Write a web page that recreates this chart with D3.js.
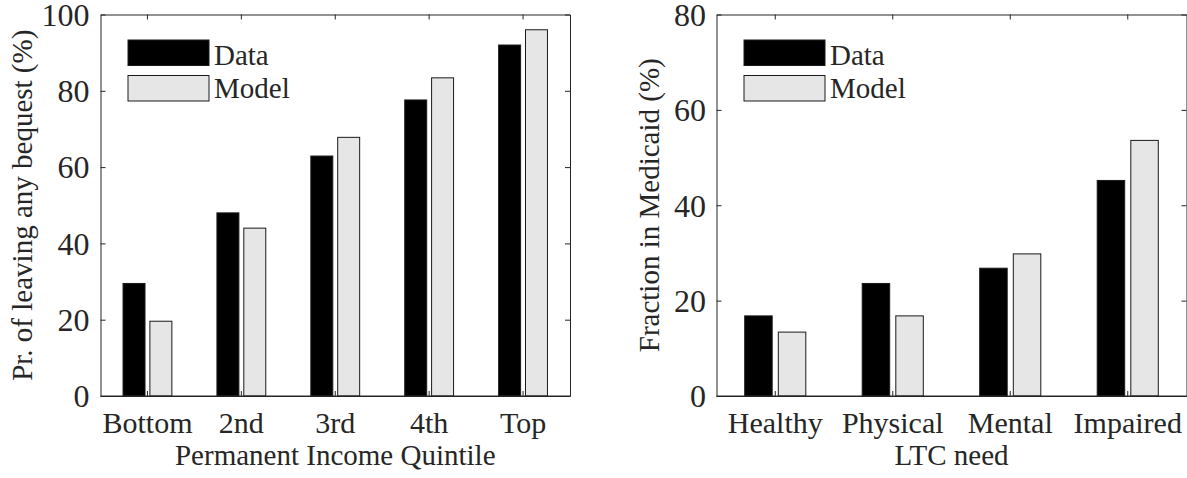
<!DOCTYPE html>
<html>
<head>
<meta charset="utf-8">
<script src="https://cdn.jsdelivr.net/npm/d3@7"></script>
<style>
  html, body { margin: 0; padding: 0; background: #fff; }
  svg { display: block; }
  text { font-family: "Liberation Serif", "Times New Roman", serif; fill: #262626; }
</style>
</head>
<body>
<svg id="fig" width="1187" height="478"></svg>
<script>
// Series names (legend entries)
const seriesNames = ["Data", "Model"];

// Left panel: probability of leaving any bequest by permanent income quintile (%)
const incomeQuintiles = ["Bottom", "2nd", "3rd", "4th", "Top"];
const bequestData  = [29.5, 48.0, 62.9, 77.6, 92.0];
const bequestModel = [19.6, 44.0, 67.8, 83.4, 96.0];
const bequestTicks = [0, 20, 40, 60, 80, 100];

// Right panel: fraction on Medicaid by long-term-care need (%)
const ltcNeeds      = ["Healthy", "Physical", "Mental", "Impaired"];
const medicaidData  = [16.8, 23.6, 26.8, 45.2];
const medicaidModel = [13.4, 16.8, 29.8, 53.6];
const medicaidTicks = [0, 20, 40, 60, 80];

const svg = d3.select("#fig");
const Y_TICK_FONT = 32, X_TICK_FONT = 30, TITLE_FONT = 29, LEGEND_FONT = 29;
const fills = { Data: "#000000", Model: "#e6e6e6" };

function drawPanel(cfg) {
  const g = svg.append("g");
  const x = d3.scaleBand().domain(cfg.cats).range([cfg.left, cfg.right]).paddingInner(0).paddingOuter(0);
  const y = d3.scaleLinear().domain([0, cfg.yMax]).range([cfg.bottom, cfg.top]);
  const bw = x.bandwidth();
  const sub = d3.scaleBand().domain(seriesNames)
    .range([-0.26 * bw, 0.26 * bw]).paddingInner(0.182).paddingOuter(0);

  // box: top and right axes (ticks only)
  g.append("g").attr("transform", `translate(0,${cfg.top})`)
    .call(d3.axisTop(x).tickSizeInner(-5).tickSizeOuter(0).tickFormat(""));
  g.append("g").attr("transform", `translate(${cfg.right},0)`)
    .call(d3.axisRight(y).tickValues(cfg.ticks).tickSizeInner(-5).tickSizeOuter(0).tickFormat(""));

  // left axis with labels
  const ya = g.append("g").attr("transform", `translate(${cfg.left},0)`)
    .call(d3.axisLeft(y).tickValues(cfg.ticks).tickSizeInner(-5).tickSizeOuter(0).tickPadding(cfg.yPad));
  ya.selectAll("text").attr("dy", "0.34em").style("font-size", Y_TICK_FONT + "px");

  // bottom axis with labels
  const xa = g.append("g").attr("transform", `translate(0,${cfg.bottom})`)
    .call(d3.axisBottom(x).tickSizeInner(-5).tickSizeOuter(0));
  xa.selectAll(".tick text")
    .attr("y", cfg.xLabelBase - cfg.bottom).attr("dy", 0)
    .style("font-size", X_TICK_FONT + "px");

  g.selectAll("g").attr("font-family", null).attr("font-size", null);
  g.selectAll(".domain, .tick line").attr("stroke", "#262626").attr("stroke-width", 1);
  g.selectAll(".tick text").attr("fill", "#262626");

  // bars
  const rows = cfg.cats.map((c, i) => ({ cat: c, Data: cfg.data[i], Model: cfg.model[i] }));
  const grp = g.append("g").selectAll("g").data(rows).join("g")
    .attr("transform", d => `translate(${x(d.cat) + bw / 2},0)`);
  grp.selectAll("rect")
    .data(d => seriesNames.map(s => ({ s, v: d[s] })))
    .join("rect")
    .attr("x", d => sub(d.s))
    .attr("width", sub.bandwidth())
    .attr("y", d => y(d.v))
    .attr("height", d => y(0) - y(d.v))
    .attr("fill", d => fills[d.s])
    .attr("stroke", "#1a1a1a")
    .attr("stroke-width", 1);

  // baseline drawn over the bar edges
  g.append("line").attr("x1", cfg.left).attr("x2", cfg.right)
    .attr("y1", cfg.bottom).attr("y2", cfg.bottom).attr("stroke", "#262626");

  // axis titles
  g.append("text")
    .attr("text-anchor", "middle")
    .style("font-size", TITLE_FONT + "px")
    .attr("x", (cfg.left + cfg.right) / 2).attr("y", cfg.xTitleBase)
    .text(cfg.xTitle);
  g.append("text")
    .attr("text-anchor", "middle")
    .style("font-size", TITLE_FONT + "px")
    .attr("transform", `translate(${cfg.yTitleBase},${(cfg.top + cfg.bottom) / 2}) rotate(-90)`)
    .text(cfg.yTitle);

  // legend
  const L = cfg.legend;
  const lg = g.append("g");
  seriesNames.forEach((s, i) => {
    lg.append("rect")
      .attr("x", L.x).attr("y", L.ys[i])
      .attr("width", L.w).attr("height", L.h)
      .attr("fill", fills[s]).attr("stroke", "#1a1a1a").attr("stroke-width", 1);
    lg.append("text")
      .style("font-size", LEGEND_FONT + "px")
      .attr("x", L.x + L.w + 5).attr("y", L.bases[i])
      .text(s);
  });
}

drawPanel({
  cats: incomeQuintiles, data: bequestData, model: bequestModel,
  ticks: bequestTicks, yMax: 100,
  left: 100.5, right: 570, top: 14.5, bottom: 396,
  yPad: 11, xLabelBase: 433,
  xTitle: "Permanent Income Quintile", xTitleBase: 465,
  yTitle: "Pr. of leaving any bequest (%)", yTitleBase: 32,
  legend: { x: 128, ys: [40, 75.5], w: 81, h: 25.5, bases: [65, 98] }
});

drawPanel({
  cats: ltcNeeds, data: medicaidData, model: medicaidModel,
  ticks: medicaidTicks, yMax: 80,
  left: 716.5, right: 1186.5, top: 14.5, bottom: 396,
  yPad: 10.5, xLabelBase: 433,
  xTitle: "LTC need", xTitleBase: 465,
  yTitle: "Fraction in Medicaid (%)", yTitleBase: 659,
  legend: { x: 744, ys: [40, 75.5], w: 81, h: 25.5, bases: [65, 98] }
});
</script>
</body>
</html>
